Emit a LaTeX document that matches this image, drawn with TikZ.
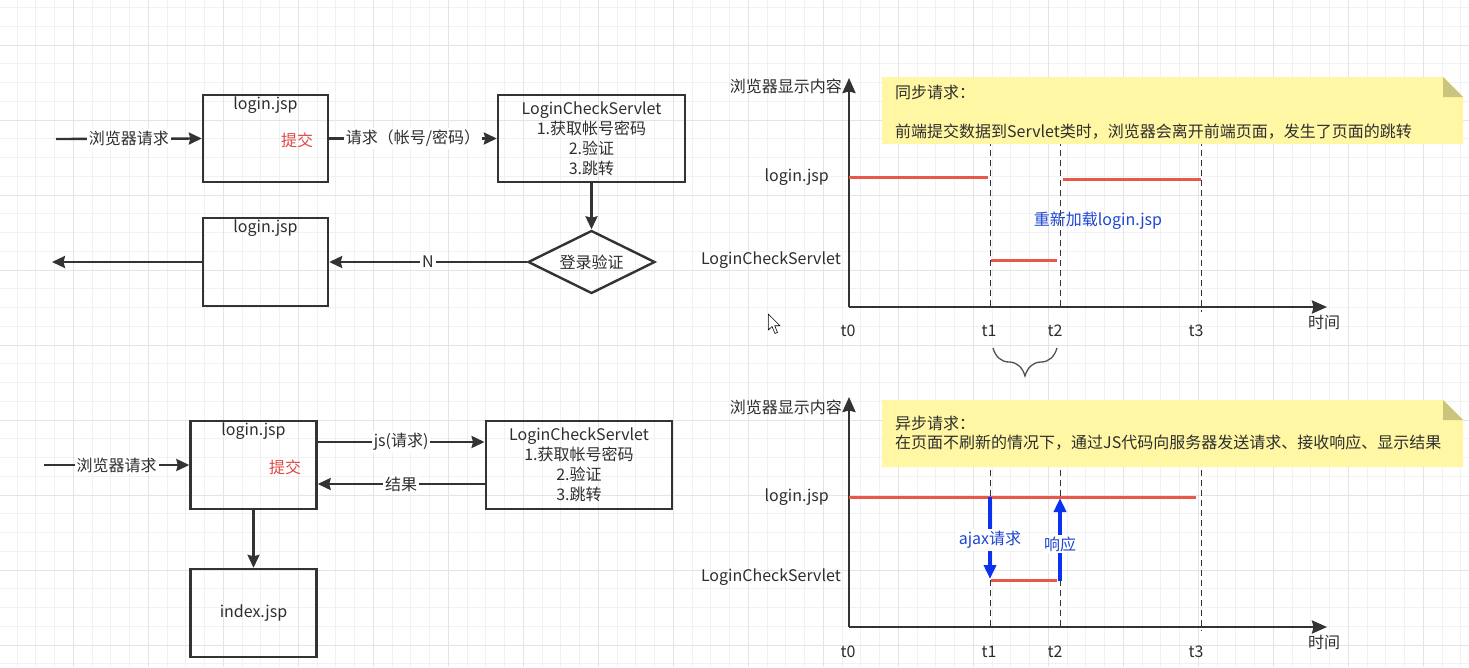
\documentclass[tikz,border=0pt]{standalone}
\usepackage{fontspec}
\setmainfont{Noto Sans CJK SC}
\usetikzlibrary{arrows.meta,shapes.geometric,decorations.pathreplacing,calc}
\definecolor{boxline}{HTML}{333333}
\definecolor{redline}{HTML}{E8584A}
\definecolor{redtext}{HTML}{E04848}
\definecolor{bluetext}{HTML}{1E46D2}
\definecolor{bluearrow}{HTML}{0A32F0}
\definecolor{notefill}{HTML}{FFF7A3}
\definecolor{notefold}{HTML}{CBC47C}
\definecolor{gridmajor}{HTML}{E4E4E4}
\definecolor{gridminor}{HTML}{F1F1F1}
\definecolor{textgray}{HTML}{2E2E2E}
\begin{document}
\begin{tikzpicture}[x=1pt,y=-1pt,
  font=\fontsize{16}{20}\selectfont, text=textgray,
  box/.style={draw=boxline, line width=2.4pt, inner sep=0pt},
  toptext/.style={inner sep=0pt},
  arr/.style={draw=boxline, line width=2.4pt, -{Stealth[length=13pt,width=12pt,inset=1.5pt]}},
  lbl/.style={fill=white, inner sep=2pt, midway},
  axis/.style={draw=boxline, line width=2.6pt, -{Stealth[length=15pt,width=13pt,inset=1.5pt]}},
  tline/.style={draw=boxline, line width=0.9pt, dash pattern=on 6pt off 4pt},
  rline/.style={draw=redline, line width=3pt},
  barr/.style={draw=bluearrow, line width=3.5pt, -{Triangle[length=14pt,width=12pt]}},
  blbl/.style={fill=white, inner sep=2pt, text=bluetext},
  note/.style={fill=notefill, draw=none},
  fold/.style={fill=notefold, draw=none},
  gmin/.style={draw=gridminor, line width=1pt},
  gmaj/.style={draw=gridmajor, line width=1pt}]
\useasboundingbox (0,0) rectangle (1469,667);
\fill[white] (0,0) rectangle (1469,667);
% grid
\foreach \k in {0,...,79}{\pgfmathsetmacro\xx{-1.7+18.75*\k}\draw[gmin] (\xx,0) -- (\xx,667);}
\foreach \k in {0,...,35}{\pgfmathsetmacro\yy{7.5+18.75*\k}\draw[gmin] (0,\yy) -- (1469,\yy);}
\foreach \k in {0,...,20}{\pgfmathsetmacro\xx{-1.7+75*\k}\draw[gmaj] (\xx,0) -- (\xx,667);}
\foreach \k in {0,...,9}{\pgfmathsetmacro\yy{-30+75*\k}\draw[gmaj] (0,\yy) -- (1469,\yy);}

% ===== top-left flow =====
\node[box, minimum width=125, minimum height=87] (A1) at (265.5,138.5) {};
\node[toptext] (A1t) at (265.5,105) {login.jsp};
\node[toptext, text=redtext] (A1s) at (297,140) {提交};
\node[box, minimum width=187, minimum height=87, align=center] (S1) at (591.5,138.5) {LoginCheckServlet\\1.获取帐号密码\\2.验证\\3.跳转};
\node[box, diamond, minimum width=127, minimum height=63, aspect=2] (D) at (591.5,262) {登录验证};
\node[box, minimum width=125, minimum height=88] (A2) at (265.5,262) {};
\node[toptext] (A2t) at (265.5,228) {login.jsp};
\coordinate (in1) at (56,139);
\coordinate (out1) at (52,262);
\draw[arr] (in1) -- (A1.west) node[lbl] {浏览器请求};
\draw[arr] (A1.east) -- (S1.west) node[lbl] {请求（帐号/密码）};
\draw[arr] (S1.south) -- (D.north);
\draw[arr] (D.west) -- (A2.east) node[lbl] {N};
\draw[arr] (A2.west) -- (out1);

% ===== bottom-left flow =====
\node[box, minimum width=126, minimum height=88] (B1) at (253.5,465) {};
\node[toptext] (B1t) at (253.5,431) {login.jsp};
\node[toptext, text=redtext] (B1s) at (285,467) {提交};
\node[box, minimum width=186.5, minimum height=88, align=center] (S2) at (579,465) {LoginCheckServlet\\1.获取帐号密码\\2.验证\\3.跳转};
\node[box, minimum width=126, minimum height=88] (I) at (253.5,613) {index.jsp};
\coordinate (in2) at (44,465);
\coordinate (jy) at (0,442);
\coordinate (ry) at (0,484);
\draw[arr] (in2) -- (B1.west) node[lbl] {浏览器请求};
\draw[arr] (B1.east |- jy) -- (S2.west |- jy) node[lbl] {js(请求)};
\draw[arr] (S2.west |- ry) -- (B1.east |- ry) node[lbl] {结果};
\draw[arr] (B1.south) -- (I.north);

% ===== top-right chart =====
\draw[tline] (990,110) -- (990,307);
\draw[tline] (1060.5,110) -- (1060.5,307);
\draw[tline] (1201,110) -- (1201,312);
\fill[note] (882,77) -- (1443,77) -- (1463,97) -- (1463,144) -- (882,144) -- cycle;
\fill[fold] (1443,77) -- (1443,97) -- (1463,97) -- cycle;
\node[anchor=west, inner sep=0pt] (n1a) at (895,92) {同步请求：};
\node[anchor=west, inner sep=0pt] (n1b) at (895,132) {前端提交数据到Servlet类时，浏览器会离开前端页面，发生了页面的跳转};
\coordinate (O1) at (849,307);
\coordinate (Y1) at (849,78);
\coordinate (X1) at (1327,307);
\draw[axis] (O1) -- (Y1);
\draw[axis] (O1) -- (X1);
\node[anchor=east, inner sep=0pt] (ya1) at (842,86) {浏览器显示内容};
\node[anchor=east, inner sep=0pt] (la1) at (829,177) {login.jsp};
\node[anchor=east, inner sep=0pt] (lb1) at (841,260) {LoginCheckServlet};
\node[inner sep=0pt] (t01) at (848,331) {t0};
\node[inner sep=0pt] (t11) at (989,331) {t1};
\node[inner sep=0pt] (t21) at (1055,331) {t2};
\node[inner sep=0pt] (t31) at (1196,331) {t3};
\node[inner sep=0pt] (tm1) at (1324,322) {时间};
\draw[rline] (849,177) -- (988,177);
\draw[rline] (1063,179) -- (1201,179);
\draw[rline] (991,260) -- (1057,260);
\node[inner sep=0pt, text=bluetext] (rl) at (1098,221) {重新加载login.jsp};
\draw[draw=boxline!85, line width=1.3pt, decorate, decoration={brace, amplitude=28pt}] (1057,348) -- (993,348);
% cursor
\draw[black, line width=0.6pt, fill=white, line join=round] (768.3,314) -- (768.3,330) -- (772,326.5) -- (775,333.5) -- (777.5,332.5) -- (774.7,325.7) -- (780,325.7) -- cycle;

% ===== bottom-right chart =====
\draw[tline] (990,440) -- (990,627);
\draw[tline] (1060.5,440) -- (1060.5,627);
\draw[tline] (1201,440) -- (1201,631);
\fill[note] (882,400) -- (1443,400) -- (1463,420) -- (1463,467) -- (882,467) -- cycle;
\fill[fold] (1443,400) -- (1443,420) -- (1463,420) -- cycle;
\node[anchor=west, inner sep=0pt] (n2a) at (895,423) {异步请求：};
\node[anchor=west, inner sep=0pt] (n2b) at (895,443) {在页面不刷新的情况下，通过JS代码向服务器发送请求、接收响应、显示结果};
\coordinate (O2) at (849,627);
\coordinate (Y2) at (849,397);
\coordinate (X2) at (1327,627);
\draw[axis] (O2) -- (Y2);
\draw[axis] (O2) -- (X2);
\node[anchor=east, inner sep=0pt] (ya2) at (842,407) {浏览器显示内容};
\node[anchor=east, inner sep=0pt] (la2) at (829,497) {login.jsp};
\node[anchor=east, inner sep=0pt] (lb2) at (841,577) {LoginCheckServlet};
\node[inner sep=0pt] (t02) at (848,652) {t0};
\node[inner sep=0pt] (t12) at (989,652) {t1};
\node[inner sep=0pt] (t22) at (1055,652) {t2};
\node[inner sep=0pt] (t32) at (1196,652) {t3};
\node[inner sep=0pt] (tm2) at (1324,642) {时间};
\draw[rline] (849,497) -- (1196,497);
\draw[rline] (991,580) -- (1057,580);
\coordinate (aj1) at (990,497);
\coordinate (aj2) at (990,579);
\coordinate (rs1) at (1060,581);
\coordinate (rs2) at (1060,498);
\draw[barr] (aj1) -- (aj2);
\draw[barr] (rs1) -- (rs2);
\node[blbl] (ajl) at (990,540) {ajax请求};
\node[blbl] (rsl) at (1060,544) {响应};
\end{tikzpicture}
\end{document}
